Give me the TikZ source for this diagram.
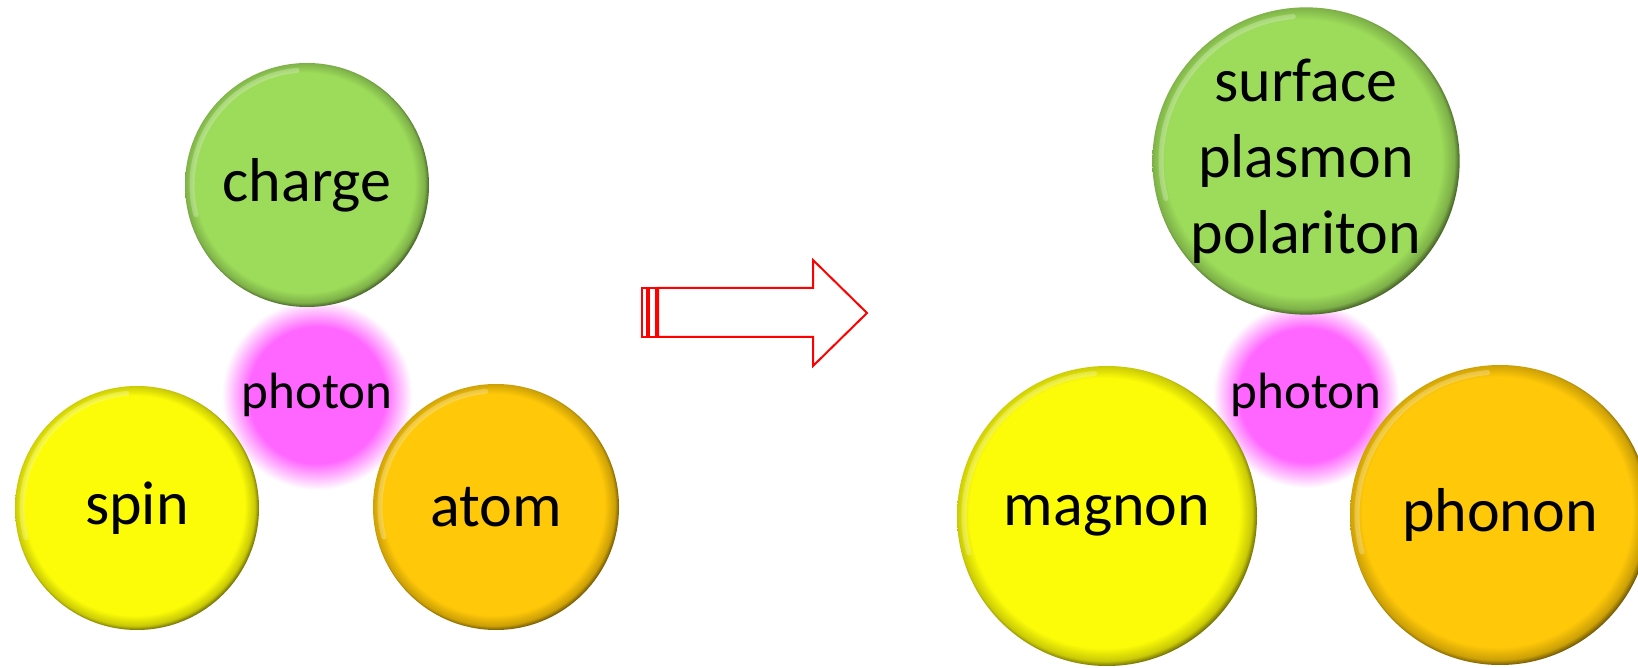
\documentclass[tikz,border=0pt]{standalone}
\usepackage{fontspec}
\setmainfont{Carlito}
\definecolor{grn}{RGB}{157,220,90}
\definecolor{yel}{RGB}{252,252,8}
\definecolor{org}{RGB}{255,200,8}
\definecolor{pnk}{RGB}{255,102,255}
\pgfdeclareradialshading{bevelgreen}{\pgfpoint{-0.9bp}{0.9bp}}{color(0bp)=(grn); color(22.5bp)=(grn); color(24.6bp)=(grn!80!black); color(25.6bp)=(grn!40!black); color(50bp)=(grn!40!black)}
\pgfdeclareradialshading{bevelyellow}{\pgfpoint{-0.9bp}{0.9bp}}{color(0bp)=(yel); color(22.5bp)=(yel); color(24.6bp)=(yel!80!black); color(25.6bp)=(yel!40!black); color(50bp)=(yel!40!black)}
\pgfdeclareradialshading{bevelorange}{\pgfpoint{-0.9bp}{0.9bp}}{color(0bp)=(org); color(22.5bp)=(org); color(24.6bp)=(org!80!black); color(25.6bp)=(org!40!black); color(50bp)=(org!40!black)}
\pgfdeclareradialshading{glow}{\pgfpoint{0bp}{0bp}}{color(0bp)=(pnk); color(18bp)=(pnk); color(25bp)=(white); color(50bp)=(white)}
\newcommand\hlarc[2]{\draw[hl] ([shift={(95:#2-7)}]#1.center) arc[start angle=95,end angle=195,radius=#2-7];}
\begin{document}
\begin{tikzpicture}[x=1pt,y=1pt,
  ball/.style={circle, inner sep=0pt, align=center, font=\fontsize{62}{76}\selectfont},
  gball/.style={ball, shading=bevelgreen},
  yball/.style={ball, shading=bevelyellow},
  oball/.style={ball, shading=bevelorange},
  glowball/.style={circle, inner sep=0pt, shading=glow, font=\fontsize{51}{60}\selectfont},
  hl/.style={white, opacity=0.25, line width=5pt, line cap=round},
  arr/.style={draw=red, line width=2pt, fill=white, line join=miter}]
\useasboundingbox (0,0) rectangle (1638,667);
\clip (0,0) rectangle (1638,667);
% left group
\node[glowball, minimum size=190] (ph1) at (317,272) {photon};
\node[gball, minimum size=244] (charge) at (307,482) {charge};
\node[yball, minimum size=244] (spin) at (137,159) {spin};
\node[oball, minimum size=246] (atom) at (496,160) {atom};
\hlarc{charge}{122}
\hlarc{spin}{122}
\hlarc{atom}{123}
% arrow
\draw[arr] (642,330) rectangle (647,379);
\draw[arr] (649,330) rectangle (656,379);
\draw[arr] (658,330) -- (658,379) -- (813,379) -- (813,407) -- (867,354) -- (813,301) -- (813,330) -- cycle;
% right group
\node[glowball, minimum size=186] (ph2) at (1306,272) {photon};
\node[gball, minimum size=304] (spp) at (1306,506) {surface\\plasmon\\polariton};
\node[yball, minimum size=300] (magnon) at (1107,151) {magnon};
\node[oball, minimum size=300] (phonon) at (1500,152) {phonon};
\hlarc{spp}{152}
\hlarc{magnon}{150}
\hlarc{phonon}{150}
\end{tikzpicture}
\end{document}
